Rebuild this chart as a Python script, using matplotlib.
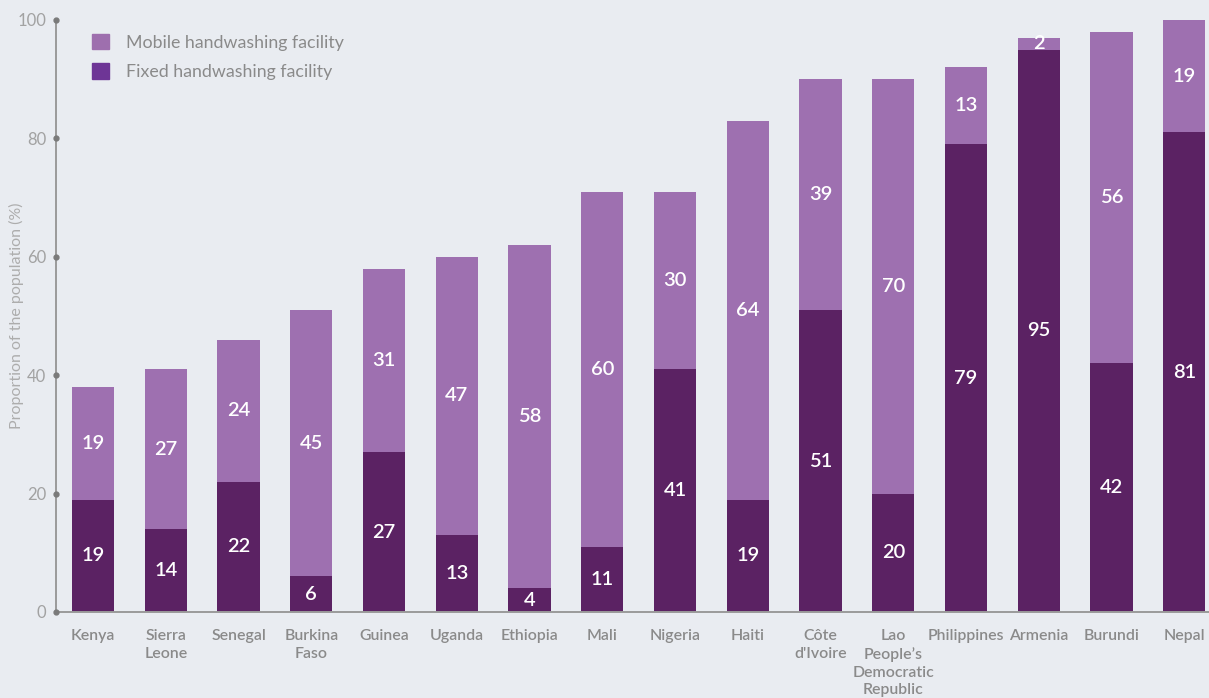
import matplotlib.pyplot as plt
import numpy as np
from matplotlib.patches import Patch

countries = ["Kenya", "Sierra\nLeone", "Senegal", "Burkina\nFaso", "Guinea", "Uganda",
             "Ethiopia", "Mali", "Nigeria", "Haiti", "Côte\nd'Ivoire",
             "Lao\nPeople\u2019s\nDemocratic\nRepublic", "Philippines", "Armenia",
             "Burundi", "Nepal"]
fixed = [19, 14, 22, 6, 27, 13, 4, 11, 41, 19, 51, 20, 79, 95, 42, 81]
mobile = [19, 27, 24, 45, 31, 47, 58, 60, 30, 64, 39, 70, 13, 2, 56, 19]

BG = "#e9ecf1"
FIXED_C = "#5b2263"
MOBILE_C = "#9e70b0"
GREY = "#8a8a8a"

plt.rcParams.update({"font.family": ["Lato", "DejaVu Sans"]})

fig = plt.figure(figsize=(12.09, 6.98), dpi=100, facecolor=BG)
ax = fig.add_axes([56 / 1209, 1 - 612 / 698, 1 - 56 / 1209, (612 - 20) / 698])
ax.set_facecolor(BG)

x = np.arange(len(countries))
w = 0.58
ax.bar(x, fixed, w, color=FIXED_C, zorder=2)
ax.bar(x, mobile, w, bottom=fixed, color=MOBILE_C, zorder=2)

# white value labels in the middle of each segment
for xi, f, m in zip(x, fixed, mobile):
    ax.text(xi, f / 2, str(f), ha="center", va="center", color="white",
            fontsize=14.5, fontweight="semibold", zorder=3)
    ax.text(xi, f + m / 2, str(m), ha="center", va="center", color="white",
            fontsize=14.5, fontweight="semibold", zorder=3)

ax.set_xlim(-0.51, len(countries) - 1 + 0.34)
ax.set_ylim(0, 100)

for side in ["top", "right"]:
    ax.spines[side].set_visible(False)
for side in ["left", "bottom"]:
    ax.spines[side].set_color("#9a9a9a")
    ax.spines[side].set_linewidth(1.4)

yt = [0, 20, 40, 60, 80, 100]
ax.set_yticks(yt)
ax.tick_params(axis="y", length=0, pad=7, labelsize=12, labelcolor="#a2a2a2")
ax.plot([0] * len(yt), yt, "o", ms=3.5, color="#7a7a7a",
        transform=ax.get_yaxis_transform(), clip_on=False, zorder=4)

ax.set_xticks(x)
ax.set_xticklabels(countries, fontsize=11.4, color=GREY, fontweight="semibold",
                   linespacing=1.35)
ax.tick_params(axis="x", length=0, pad=12)

fig.text(16 / 1209, 1 - 316 / 698, "Proportion of the population (%)", rotation=90,
         ha="center", va="center", fontsize=11.5, color="#adadad")

handles = [Patch(color="#9e6fae", label="Mobile handwashing facility"),
           Patch(color="#6e3596", label="Fixed handwashing facility")]
ax.legend(handles=handles, loc="upper left", bbox_to_anchor=(92 / 1209, 1 - 34 / 698),
          bbox_transform=fig.transFigure, frameon=False, fontsize=12.8,
          handlelength=0.95, handleheight=0.95, handletextpad=0.95, labelspacing=0.7,
          borderpad=0, borderaxespad=0, labelcolor=GREY)

fig.savefig("out.png", dpi=100, facecolor=BG)
